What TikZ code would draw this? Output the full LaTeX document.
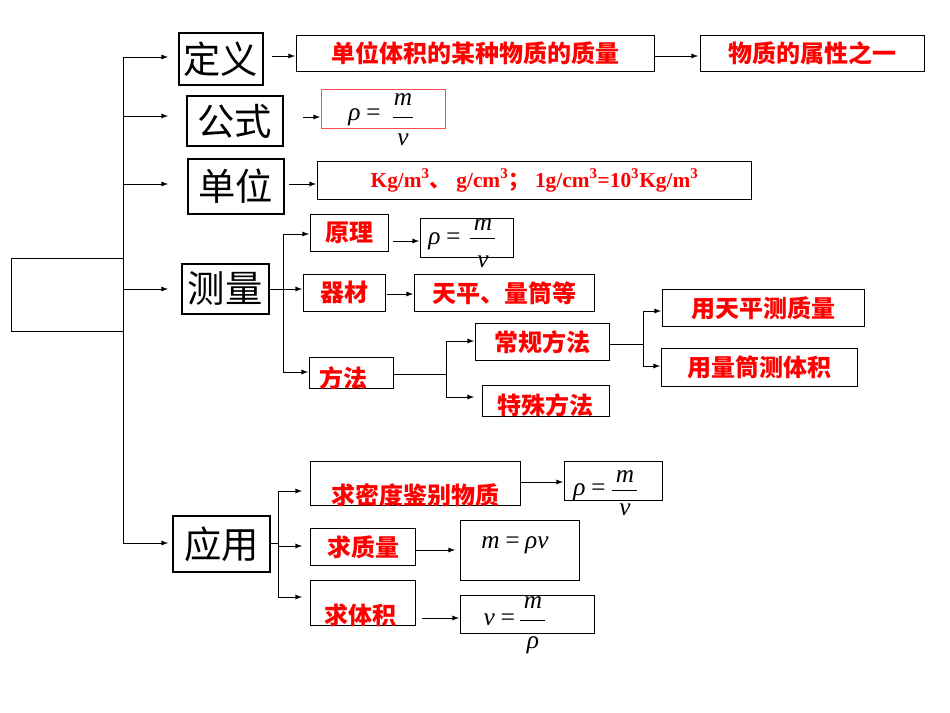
\documentclass[tikz,border=0pt]{standalone}
\usepackage{fontspec}
\setmainfont{Liberation Serif}
\newfontfamily\cjk{Noto Sans CJK SC}
\begin{document}
\begin{tikzpicture}[x=0.75pt,y=-0.75pt,
 box/.style={draw,anchor=north west,inner sep=0pt,line width=0.8pt},
 head/.style={box,line width=1.4pt,font=\cjk\fontsize{28}{28}\selectfont},
 red/.style={text=red,font=\cjk\bfseries\fontsize{18}{18}\selectfont},
 ar/.style={-latex,line width=0.7pt},
 ln/.style={line width=0.7pt},
 fm/.style={font=\fontsize{19}{19}\selectfont\itshape,inner sep=0pt}]
\useasboundingbox (0,0) rectangle (950,713);
% root and trunk
\node[box,minimum width=84pt,minimum height=55pt] (root) at (11,258) {};
\draw[ln] (root.north east) -- (123,258) coordinate (tm);
\draw[ln] (123,57) coordinate (t1) -- (123,543) coordinate (t5);
\node[head,minimum width=63pt,minimum height=39pt] (h1) at (178,32) {定义};
\node[head,minimum width=72pt,minimum height=37.5pt] (h2) at (186,95) {公式};
\node[head,minimum width=72pt,minimum height=41pt] (h3) at (187,158) {单位};
\node[head,minimum width=65pt,minimum height=37.5pt] (h4) at (181,263) {测量};
\node[head,minimum width=73pt,minimum height=42pt] (h5) at (172,515) {应用};
\draw[ar] (t1) -- (168,57);
\coordinate (t2) at (123,116); \draw[ar] (t2) -- (168,116);
\coordinate (t3) at (123,184); \draw[ar] (t3) -- (168,184);
\coordinate (t4) at (123,289); \draw[ar] (t4) -- (168,289);
\draw[ar] (t5) -- (168,543);
% definition
\node[box,red,minimum width=268.5pt,minimum height=27pt] (d1) at (296,35) {单位体积的某种物质的质量};
\node[box,red,minimum width=168pt,minimum height=27pt] (d2) at (700,35) {物质的属性之一};
\draw[ar] (272,56) -- (295,56);
\draw[ar] (655,56) -- (698,56);
% formula
\node[box,draw=red!70,minimum width=93pt,minimum height=29pt] (f1) at (321,89) {};
\draw[ar] (303,117) -- (320,117);
\node[fm] (f1a) at (365,117) {ρ\,=};
\draw[ln] (393,117) -- (413,117);
\node[fm] (f1m) at (403,100) {m};
\node[fm] (f1v) at (403,140) {v};
% unit
\node[box,minimum width=325.5pt,minimum height=28.5pt,text=red,font=\bfseries\fontsize{16}{16}\selectfont] (u1) at (317,161) {Kg/m\textsuperscript{3}{\cjk 、} g/cm\textsuperscript{3}{\cjk ；} 1g/cm\textsuperscript{3}=10\textsuperscript{3}Kg/m\textsuperscript{3}};
\draw[ar] (289,184) -- (316,184);
% measurement
\draw[ln] (268,289) -- (283,289);
\draw[ln] (283,234) -- (283,372);
\node[box,red,minimum width=58.5pt,minimum height=27.5pt] (m1) at (310,214) {原理};
\node[box,minimum width=70pt,minimum height=29pt] (m1f) at (420,218) {};
\draw[ar] (283,234) -- (309,234);
\draw[ar] (393,241) -- (419,241);
\node[fm] (f2a) at (445,241) {ρ\,=};
\draw[ln] (470,238) -- (495,238);
\node[fm] (f2m) at (483,225) {m};
\node[fm] (f2v) at (483,262) {v};
\node[box,red,minimum width=61.5pt,minimum height=27.5pt] (m2) at (303,274) {器材};
\node[box,red,minimum width=135pt,minimum height=27.5pt] (m2b) at (414,274) {天平、量筒等};
\draw[ar] (283,289) -- (302,289);
\draw[ar] (387,294) -- (413,294);
\node[box,minimum width=63pt,minimum height=23pt] (m3) at (309,357) {};
\node[red,anchor=west] (m3t) at (315,378) {方法};
\draw[ar] (283,372) -- (308,372);
\draw[ln] (393,374) -- (446,374);
\draw[ln] (446,341) -- (446,397);
\node[box,red,minimum width=100.5pt,minimum height=27.5pt] (c1) at (475,323) {常规方法};
\node[box,minimum width=95pt,minimum height=23pt] (c2) at (482,385) {};
\node[red] (c2t) at (545,405) {特殊方法};
\draw[ar] (446,341) -- (474,341);
\draw[ar] (446,397) -- (474,397);
\draw[ln] (609,344) -- (643,344);
\draw[ln] (643,311) -- (643,366);
\node[box,red,minimum width=151.5pt,minimum height=27.5pt] (g1) at (662,289) {用天平测质量};
\node[box,red,minimum width=147pt,minimum height=28.5pt] (g2) at (661,348) {用量筒测体积};
\draw[ar] (643,311) -- (661,311);
\draw[ar] (643,366) -- (660,366);
% application
\draw[ln] (269,543) -- (278,543);
\draw[ln] (278,491) -- (278,597);
\node[box,minimum width=157.5pt,minimum height=33pt] (a1) at (310,461) {};
\node[red] (a1t) at (415,495) {求密度鉴别物质};
\node[box,minimum width=73.5pt,minimum height=29pt] (a1f) at (564,461) {};
\draw[ar] (278,491) -- (302,491);
\draw[ar] (520,482) -- (563,482);
\node[fm] (f3a) at (590,492) {ρ\,=};
\draw[ln] (612,490) -- (637,490);
\node[fm] (f3m) at (625,477) {m};
\node[fm] (f3v) at (625,510) {v};
\node[box,red,minimum width=79pt,minimum height=28pt] (a2) at (310,528) {求质量};
\node[box,minimum width=89pt,minimum height=45pt] (a2f) at (460,520) {};
\node[fm] (f4) at (515,545) {m\,=\,ρv};
\draw[ar] (278,546) -- (302,546);
\draw[ar] (415,550) -- (455,550);
\node[box,minimum width=79pt,minimum height=33.5pt] (a3) at (310,580) {};
\node[red] (a3t) at (360,615) {求体积};
\node[box,minimum width=100.5pt,minimum height=28.5pt] (a3f) at (460,595) {};
\draw[ar] (278,597) -- (302,597);
\draw[ar] (422,618) -- (459,618);
\node[fm] (f5a) at (500,620) {v\,=};
\draw[ln] (520,620) -- (545,620);
\node[fm] (f5m) at (533,603) {m};
\node[fm] (f5r) at (533,645) {ρ};
\end{tikzpicture}
\end{document}
